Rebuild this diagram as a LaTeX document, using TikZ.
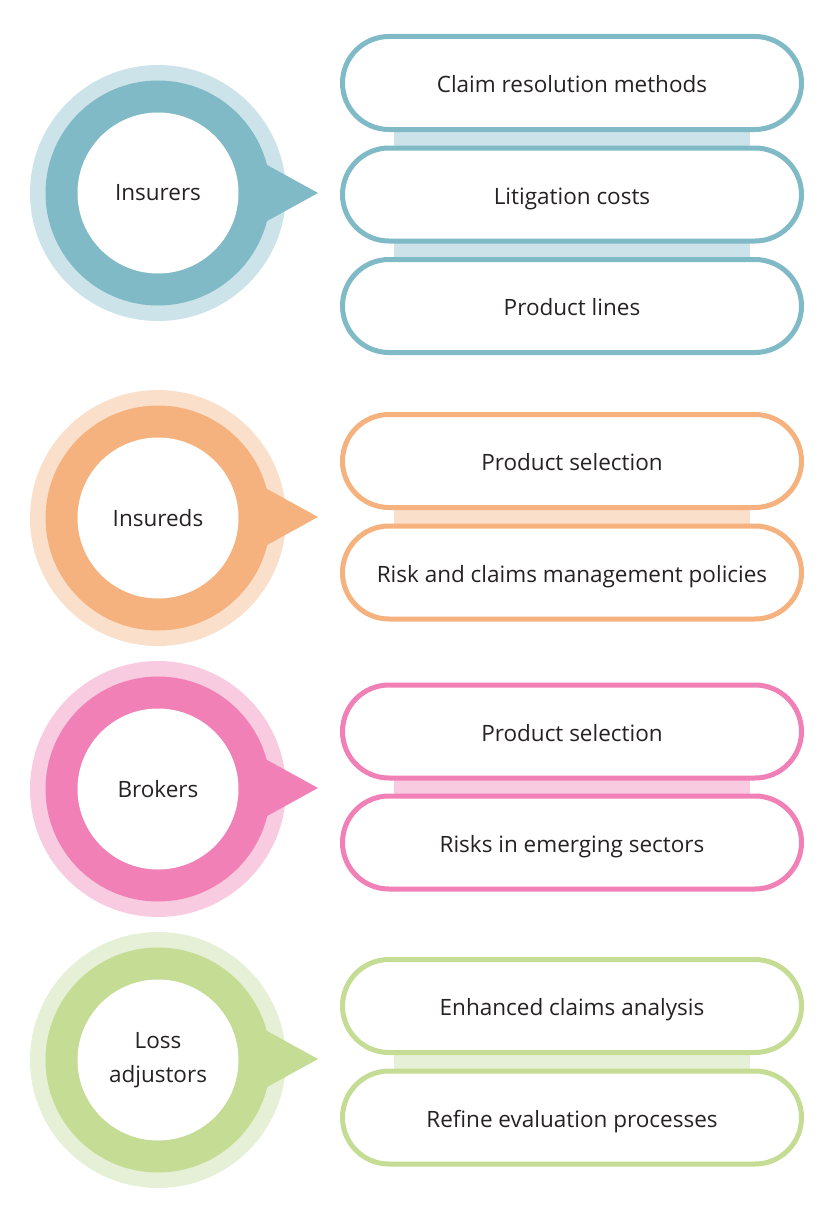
\documentclass[tikz,border=0pt]{standalone}
\usepackage{fontspec}
\setmainfont{Open Sans}
\usetikzlibrary{backgrounds}
\definecolor{tealD}{HTML}{80BAC6}
\definecolor{tealL}{HTML}{CCE3E9}
\definecolor{oranD}{HTML}{F5B27E}
\definecolor{oranL}{HTML}{FADFCB}
\definecolor{pinkD}{HTML}{F080B5}
\definecolor{pinkL}{HTML}{F8CBE1}
\definecolor{grnD}{HTML}{C5DC94}
\definecolor{grnL}{HTML}{E6F0D6}
\definecolor{txt}{HTML}{262223}
\tikzset{
  halo/.style={circle, inner sep=0pt, minimum size=256pt},
  ring/.style={circle, inner sep=0pt, minimum size=225pt},
  hub/.style={circle, fill=white, inner sep=0pt, minimum size=161pt, align=center,
    font=\fontsize{22.5}{34}\selectfont, text=txt},
  pill/.style={rectangle, rounded corners=46.5pt, fill=white, line width=5pt,
    minimum width=459pt, minimum height=93pt, inner sep=0pt, outer sep=0pt,
    text height=19pt, text depth=0pt,
    font=\fontsize{22.5}{26}\selectfont, text=txt},
}
\begin{document}
\begin{tikzpicture}[x=1pt,y=-1pt]
\useasboundingbox (0,0) rectangle (839,1223);
% ---------- Group 1: Insurers ----------
\node[halo, fill=tealL] (h1) at (158,193) {};
\node[ring, fill=tealD] (r1) at (158,193) {};
\coordinate (t1) at (318,193);
\fill[tealD] (t1) -- (248,154.5) -- (248,231.5) -- cycle;
\node[hub] (c1) at (158,193) {Insurers};
\node[pill, draw=tealD] (b11) at (572,83) {Claim resolution methods};
\node[pill, draw=tealD] (b12) at (572,194.5) {Litigation costs};
\node[pill, draw=tealD] (b13) at (572,306) {Product lines};
% ---------- Group 2: Insureds ----------
\node[halo, fill=oranL] (h2) at (158,518) {};
\node[ring, fill=oranD] (r2) at (158,518) {};
\coordinate (t2) at (318,517);
\fill[oranD] (t2) -- (248,478.5) -- (248,555.5) -- cycle;
\node[hub] (c2) at (158,518) {Insureds};
\node[pill, draw=oranD] (b21) at (572,461) {Product selection};
\node[pill, draw=oranD] (b22) at (572,572.5) {Risk and claims management policies};
% ---------- Group 3: Brokers ----------
\node[halo, fill=pinkL] (h3) at (158,789) {};
\node[ring, fill=pinkD] (r3) at (158,789) {};
\coordinate (t3) at (318,788);
\fill[pinkD] (t3) -- (248,749.5) -- (248,826.5) -- cycle;
\node[hub] (c3) at (158,789) {Brokers};
\node[pill, draw=pinkD] (b31) at (572,731.5) {Product selection};
\node[pill, draw=pinkD] (b32) at (572,842.5) {Risks in emerging sectors};
% ---------- Group 4: Loss adjustors ----------
\node[halo, fill=grnL] (h4) at (158,1060) {};
\node[ring, fill=grnD] (r4) at (158,1060) {};
\coordinate (t4) at (318,1059);
\fill[grnD] (t4) -- (248,1020.5) -- (248,1097.5) -- cycle;
\node[hub] (c4) at (158,1060) {Loss\\adjustors};
\node[pill, draw=grnD] (b41) at (572,1006) {Enhanced claims analysis};
\node[pill, draw=grnD] (b42) at (572,1117.5) {Refine evaluation processes};
% ---------- bands between pills (behind) ----------
\begin{pgfonlayer}{background}
\fill[tealL] ([xshift=-178pt]b11.center) rectangle ([xshift=178pt]b12.center);
\fill[tealL] ([xshift=-178pt]b12.center) rectangle ([xshift=178pt]b13.center);
\fill[oranL] ([xshift=-178pt]b21.center) rectangle ([xshift=178pt]b22.center);
\fill[pinkL] ([xshift=-178pt]b31.center) rectangle ([xshift=178pt]b32.center);
\fill[grnL] ([xshift=-178pt]b41.center) rectangle ([xshift=178pt]b42.center);
\end{pgfonlayer}
\end{tikzpicture}
\end{document}
